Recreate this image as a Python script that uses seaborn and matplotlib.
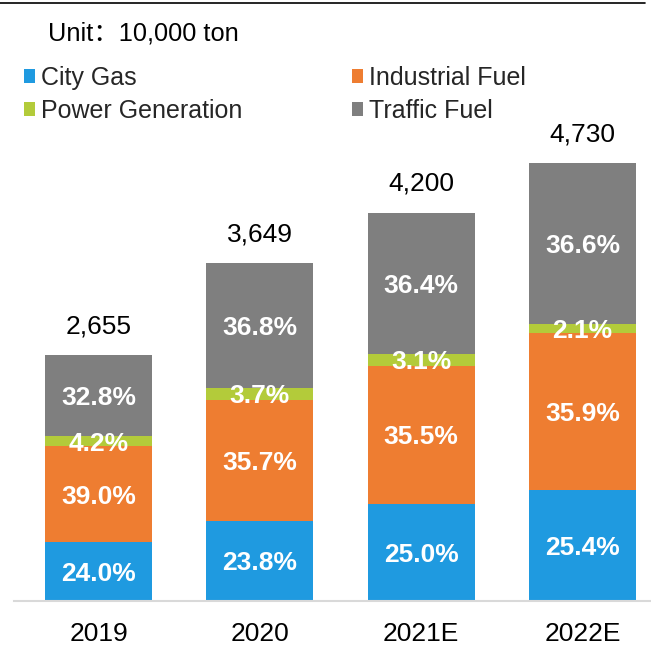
import matplotlib
matplotlib.use("Agg")
import matplotlib.pyplot as plt
import seaborn as sns
import pandas as pd
import numpy as np
from matplotlib.patches import Patch
from matplotlib.lines import Line2D

years = ["2019", "2020", "2021E", "2022E"]
totals = [2655, 3649, 4200, 4730]
series = ["City Gas", "Industrial Fuel", "Power Generation", "Traffic Fuel"]
city_gas = [24.0, 23.8, 25.0, 25.4]
industrial = [39.0, 35.7, 35.5, 35.9]
power = [4.2, 3.7, 3.1, 2.1]
traffic = [32.8, 36.8, 36.4, 36.6]
colors = ["#1F9AE0", "#EE7D31", "#B3CB3A", "#7F7F7F"]

sns.set_theme(style="white")
plt.rcParams["font.family"] = ["Liberation Sans", "Noto Sans CJK SC", "DejaVu Sans"]

W, H = 651, 648
fig = plt.figure(figsize=(W / 100, H / 100), dpi=100)
ax_bottom_px = 601
ax_top_px = 10
ax = fig.add_axes([14 / W, (H - ax_bottom_px) / H, 1 - 14 / W, (ax_bottom_px - ax_top_px) / H])

pcts = np.array([city_gas, industrial, power, traffic])
tot = np.array(totals, dtype=float)
vals = pcts / 100.0 * tot
cum = np.cumsum(vals, axis=0)

# draw cumulative bars from top layer down
for i in range(3, -1, -1):
    df = pd.DataFrame({"year": years, "v": cum[i]})
    sns.barplot(data=df, x="year", y="v", color=colors[i], saturation=1, width=0.665,
                ax=ax, errorbar=None, linewidth=0)

# percentage labels
for i in range(4):
    for j in range(4):
        base = cum[i][j] - vals[i][j]
        ax.text(j, base + vals[i][j] / 2, f"{pcts[i][j]:.1f}%", ha="center", va="center_baseline",
                color="white", fontsize=19, fontweight="bold")

# total labels
for j in range(4):
    ax.annotate(f"{totals[j]:,}", (j, totals[j]), xytext=(0, 16), textcoords="offset points",
                ha="center", va="baseline", fontsize=19, color="black")

ax.set_xlim(-0.524, 3.425)
ax.set_ylim(0, (ax_bottom_px - ax_top_px) / 0.0925)
ax.set_xlabel("")
ax.set_ylabel("")
ax.set_yticks([])
ax.tick_params(axis="x", length=0, pad=15, labelsize=19, colors="black")
for s in ["top", "right", "left"]:
    ax.spines[s].set_visible(False)
ax.spines["bottom"].set_color("#D9D9D9")
ax.spines["bottom"].set_linewidth(1.5)

# top border line
fig.add_artist(Line2D([0, 645 / W], [1 - 3 / H, 1 - 3 / H], color="black", linewidth=1.2))

fig.text(48 / W, 1 - 33 / H, "Unit：10,000 ton", fontsize=18.3, va="center", ha="left", color="black")

order = [0, 2, 1, 3]
handles = [Patch(facecolor=colors[k], edgecolor="none", label=series[k]) for k in order]
fig.legend(handles=handles, ncol=2, loc="upper left", bbox_to_anchor=(24 / W, 1 - 66 / H),
           frameon=False, fontsize=18, handlelength=0.45, handleheight=0.45, handletextpad=0.22,
           columnspacing=4.4, labelspacing=0.36, borderpad=0, borderaxespad=0)

fig.savefig("out.png", dpi=100)
